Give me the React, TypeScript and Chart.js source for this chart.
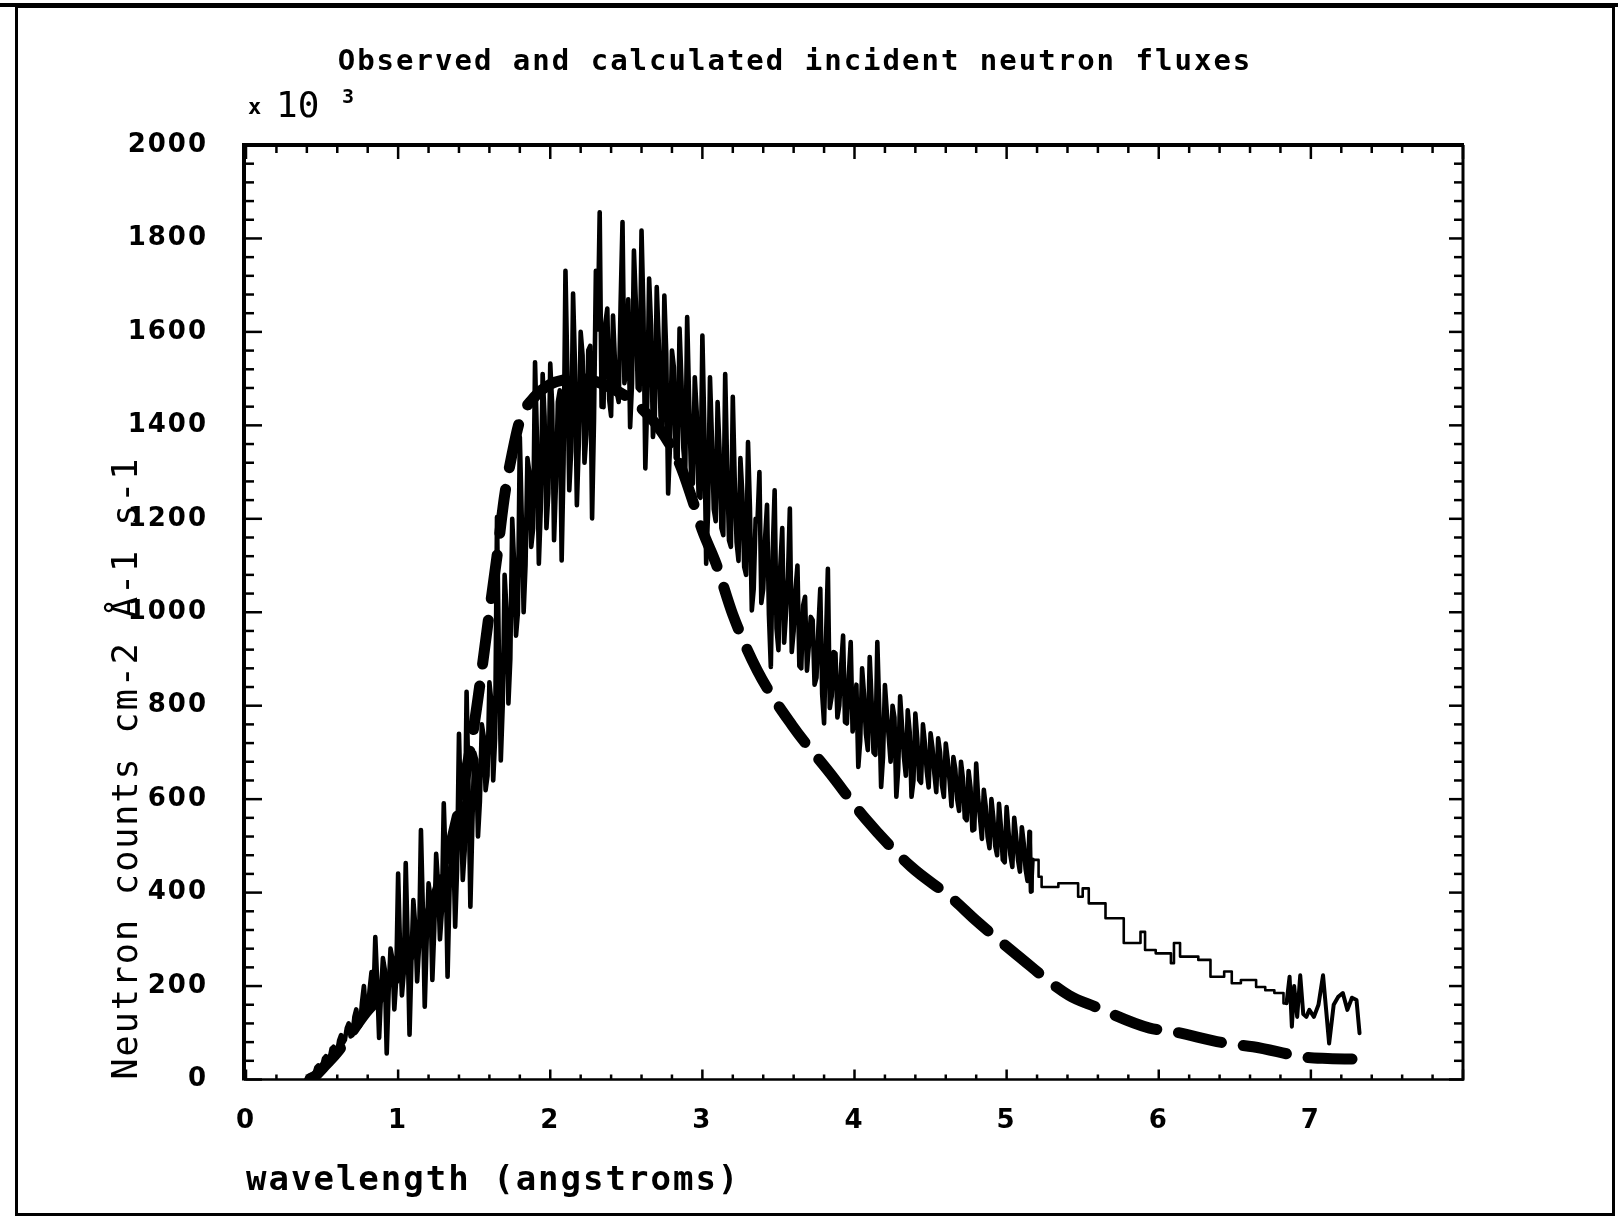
import React, { useEffect, useRef } from "react";
import { Chart, registerables } from "chart.js";

Chart.register(...registerables);

// ---- data ----
const TITLE = "Observed and calculated incident neutron fluxes";
const X_TITLE = "wavelength (angstroms)";
const Y_TITLE = "Neutron counts cm-2 Å-1 s-1";
const X_TICK_LABELS = ["0", "1", "2", "3", "4", "5", "6", "7"];

// observed flux (x10^3), noisy part.
// observedNoisyA: samples at 0.400, 0.425, 0.450 ... Å (the spikes)
// observedNoisyB: samples halfway between them, 0.4125, 0.4375 ... Å (the dense core)
const OBS_START = 0.4;
const OBS_STEP = 0.025;
const observedNoisyA = [
  2, 10, 12, 30, 28, 50, 45, 70, 60, 95,
  85, 120, 95, 150, 115, 200, 140, 230, 305, 89,
  260, 56, 280, 150, 441, 180, 463, 96, 384, 210,
  534, 156, 420, 213, 483, 300, 591, 220, 520, 327,
  740, 427, 830, 370, 700, 520, 760, 619, 850, 640,
  1204, 683, 1080, 805, 1200, 950, 1375, 1000, 1330, 1140,
  1535, 1104, 1510, 1180, 1532, 1154, 1450, 1111, 1731, 1261,
  1682, 1229, 1600, 1320, 1561, 1201, 1731, 1856, 1439, 1650,
  1420, 1539, 1450, 1835, 1520, 1396, 1774, 1480, 1817, 1308,
  1714, 1375, 1696, 1420, 1678, 1254, 1560, 1330, 1607, 1350,
  1632, 1297, 1503, 1250, 1592, 1104, 1503, 1220, 1450, 1180,
  1510, 1154, 1461, 1150, 1330, 1097, 1364, 1004, 1200, 1300,
  1050, 1230, 883, 1261, 919, 1180, 1000, 1222, 960, 1100,
  880, 1033, 930, 983, 860, 1050, 762, 1093, 820, 912,
  800, 950, 762, 936, 780, 669, 880, 740, 904, 700,
  936, 626, 844, 733, 800, 605, 820, 690, 790, 605,
  783, 641, 760, 660, 741, 655, 730, 630, 719, 640,
  690, 600, 680, 560, 660, 533, 676, 560, 620, 520,
  600, 500, 590, 470, 583, 480, 560, 470, 540, 450,
];
const observedNoisyB = [
  8, 6, 26, 22, 45, 40, 66, 58, 84, 78,
  110, 92, 134, 118, 165, 148, 192, 170, 208, 184,
  235, 188, 258, 215, 285, 230, 300, 255, 330, 285,
  365, 298, 390, 322, 420, 360, 462, 400, 505, 450,
  575, 490, 632, 540, 685, 595, 735, 650, 810, 730,
  905, 800, 1005, 900, 1105, 1000, 1205, 1100, 1300, 1180,
  1375, 1220, 1420, 1255, 1445, 1275, 1475, 1320, 1515, 1345,
  1530, 1360, 1550, 1380, 1570, 1410, 1605, 1440, 1620, 1455,
  1635, 1470, 1660, 1490, 1670, 1490, 1665, 1475, 1645, 1450,
  1615, 1420, 1585, 1390, 1555, 1360, 1525, 1330, 1495, 1300,
  1460, 1275, 1430, 1245, 1400, 1215, 1375, 1195, 1350, 1165,
  1315, 1140, 1285, 1110, 1255, 1080, 1225, 1050, 1195, 1020,
  1160, 995, 1130, 965, 1100, 935, 1075, 915, 1050, 885,
  1015, 875, 990, 845, 965, 825, 940, 795, 915, 775,
  885, 765, 865, 745, 845, 725, 825, 705, 810, 695,
  795, 690, 785, 680, 775, 665, 755, 650, 745, 640,
  730, 635, 720, 625, 710, 615, 700, 605, 685, 585,
  665, 575, 645, 555, 625, 535, 605, 515, 585, 495,
  560, 480, 540, 465, 530, 455, 520, 445, 505, 425,
];

// observed flux, stepped tail
const tailWavelengths = [
  5.15, 5.16, 5.17, 5.21, 5.23, 5.34, 5.47, 5.5, 5.54, 5.65,
  5.77, 5.88, 5.91, 5.98, 6.08, 6.1, 6.14, 6.26, 6.34, 6.43,
  6.48, 6.54, 6.64, 6.7, 6.76, 6.82,
];
const tailCounts = [
  530, 402, 470, 434, 412, 420, 391, 409, 377, 345,
  292, 316, 277, 270, 249, 292, 263, 256, 220, 231,
  206, 213, 198, 191, 185, 163,
];

// observed flux, noisy end
const endWavelengths = [
  6.84, 6.86, 6.875, 6.89, 6.91, 6.93, 6.95, 6.97, 6.99, 7.02,
  7.05, 7.08, 7.1, 7.12, 7.15, 7.18, 7.21, 7.24, 7.27, 7.3, 7.32,
];
const endCounts = [
  163, 220, 113, 200, 134, 223, 140, 134, 149, 134,
  160, 223, 150, 77, 160, 177, 185, 149, 175, 170, 99,
];

// calculated flux (dashed curve)
const calcWavelengths = [
  0.42, 0.46, 0.53, 0.6, 0.68, 0.79, 0.93, 1.0, 1.1, 1.2,
  1.3, 1.4, 1.5, 1.6, 1.65, 1.7, 1.75, 1.8, 1.9, 2.0,
  2.1, 2.2, 2.3, 2.4, 2.5, 2.6, 2.72, 2.85, 2.94, 3.0,
  3.09, 3.2, 3.36, 3.59, 3.84, 4.07, 4.37, 4.64, 4.8, 5.07,
  5.41, 5.58, 5.94, 6.07, 6.45, 6.62, 6.98, 7.11, 7.38,
];
const calcCounts = [
  0, 9, 33, 58, 94, 144, 193, 225, 280, 350,
  450, 580, 760, 1000, 1120, 1250, 1340, 1410, 1462, 1488,
  1498, 1500, 1494, 1480, 1462, 1436, 1392, 1318, 1235, 1175,
  1104, 995, 876, 758, 655, 559, 456, 388, 340, 266,
  180, 156, 110, 104, 77, 70, 47, 45, 43,
];

const MONO = "'DejaVu Sans Mono', monospace";
const BOLD = "'DejaVu Sans', sans-serif";

const framePlugin = {
  id: "plotFrame",
  beforeDraw(chart: any) {
    chart.ctx.letterSpacing = "2px";
  },
  afterDraw(chart: any) {
    const { ctx, chartArea: a } = chart;
    const xs = chart.scales.x;
    const ys = chart.scales.y;
    ctx.save();
    ctx.letterSpacing = "0px";
    ctx.strokeStyle = "#000";
    ctx.lineCap = "butt";
    const seg = (x1: number, y1: number, x2: number, y2: number, w: number) => {
      ctx.lineWidth = w;
      ctx.beginPath();
      ctx.moveTo(x1, y1);
      ctx.lineTo(x2, y2);
      ctx.stroke();
    };
    // plot frame
    seg(a.left - 2, a.top, a.right + 1, a.top, 4);
    seg(a.left - 2, a.top - 2, a.left - 2, a.bottom + 1, 4);
    seg(a.right, a.top, a.right, a.bottom + 1, 3);
    seg(a.left - 2, a.bottom, a.right + 1, a.bottom, 2.5);
    // x ticks (inward), minor every 0.2
    for (let i = 0; i <= 40; i++) {
      const px = xs.getPixelForValue(i * 0.2);
      const major = i % 5 === 0;
      seg(px, a.bottom, px, a.bottom - (major ? 10 : 5), 2.5);
      seg(px, a.top, px, a.top + (major ? 14 : 8), 2.5);
    }
    // y ticks (inward), minor every 40
    for (let i = 0; i <= 50; i++) {
      const py = ys.getPixelForValue(i * 40);
      const major = i % 5 === 0;
      seg(a.left, py, a.left + (major ? 16 : 8), py, 2.5);
      seg(a.right, py, a.right - (major ? 14 : 9), py, 2.5);
    }
    // axis multiplier
    ctx.fillStyle = "#000";
    ctx.textAlign = "left";
    ctx.textBaseline = "alphabetic";
    ctx.font = `bold 22px ${MONO}`;
    ctx.fillText("x", a.left + 2, a.top - 31);
    ctx.font = `36px ${MONO}`;
    ctx.fillText("10", a.left + 30, a.top - 28);
    ctx.font = `bold 20px ${MONO}`;
    ctx.fillText("3", a.left + 96, a.top - 42);
    // outer page border
    ctx.lineWidth = 3;
    ctx.strokeRect(16.5, 6.5, 1597, 1208);
    seg(0, 5, 1618, 5, 4);
    ctx.restore();
  },
};

export default function App() {
  const ref = useRef<HTMLCanvasElement | null>(null);

  useEffect(() => {
    if (!ref.current) return;
    const noisy: { x: number; y: number }[] = [];
    observedNoisyA.forEach((v, i) => {
      noisy.push({ x: OBS_START + i * OBS_STEP, y: v });
      noisy.push({ x: OBS_START + (i + 0.5) * OBS_STEP, y: observedNoisyB[i] });
    });
    noisy.push({ x: tailWavelengths[0], y: tailCounts[0] });
    noisy.push({ x: tailWavelengths[1], y: tailCounts[1] });
    noisy.push({ x: tailWavelengths[2], y: tailCounts[2] });
    const tail = [
      ...tailWavelengths.map((w, i) => ({ x: w, y: tailCounts[i] })),
      { x: endWavelengths[0], y: endCounts[0] },
    ];
    const end = endWavelengths.map((w, i) => ({ x: w, y: endCounts[i] }));
    const calculated = calcWavelengths.map((w, i) => ({ x: w, y: calcCounts[i] }));

    const lineBase = {
      borderColor: "#000",
      pointRadius: 0,
      fill: false,
      borderJoinStyle: "round",
      borderCapStyle: "round",
    };

    const chart = new Chart(ref.current, {
      type: "line",
      data: {
        datasets: [
          { ...lineBase, label: "Observed", data: noisy, borderWidth: 4.6 } as any,
          { ...lineBase, label: "Observed tail", data: tail, borderWidth: 2.6, stepped: true } as any,
          { ...lineBase, label: "Observed end", data: end, borderWidth: 4 } as any,
          {
            ...lineBase,
            label: "Calculated",
            data: calculated,
            borderWidth: 11,
            borderDash: [44, 22],
            cubicInterpolationMode: "monotone",
          } as any,
        ],
      },
      options: {
        animation: false,
        responsive: false,
        devicePixelRatio: 1,
        color: "#000",
        layout: { padding: { left: 90, right: 118, top: 40, bottom: 5 } },
        plugins: {
          legend: { display: false },
          tooltip: { enabled: false },
          title: {
            display: true,
            text: TITLE,
            color: "#000",
            font: { family: MONO, size: 29, weight: "bold" },
            padding: { top: 5, bottom: 65.2 },
          },
        },
        scales: {
          x: {
            type: "linear",
            min: 0,
            max: 8,
            grid: { display: false },
            border: { display: false },
            ticks: {
              stepSize: 1,
              autoSkip: false,
              maxRotation: 0,
              padding: 18,
              color: "#000",
              font: { family: BOLD, size: 26, weight: "bold" },
              callback: (v: any) => X_TICK_LABELS[Math.round(Number(v))] ?? "",
            },
            title: {
              display: true,
              text: X_TITLE,
              align: "start",
              color: "#000",
              font: { family: MONO, size: 34, weight: "bold" },
              padding: { top: 0, bottom: 12.6 },
            },
            afterFit: (s: any) => {
              s.height = 134.5;
            },
          },
          y: {
            type: "linear",
            min: 0,
            max: 2000,
            grid: { display: false },
            border: { display: false },
            ticks: {
              stepSize: 200,
              padding: 30,
              color: "#000",
              font: { family: BOLD, size: 26, weight: "bold" },
              callback: (v: any) => String(v),
            },
            title: {
              display: true,
              text: Y_TITLE,
              align: "start",
              color: "#000",
              font: { family: MONO, size: 35, weight: "normal" },
              padding: { top: 17, bottom: 0 },
            },
            afterFit: (s: any) => {
              s.width = 156;
            },
          },
          yRight: {
            type: "linear",
            position: "right",
            display: true,
            grid: { display: false },
            border: { display: false },
            ticks: { display: false },
            afterFit: (s: any) => {
              s.width = 37;
            },
          },
        },
      } as any,
      plugins: [framePlugin],
    });
    return () => chart.destroy();
  }, []);

  return (
    <div style={{ position: "absolute", left: 0, top: 0, width: 1618, height: 1219, background: "#fff" }}>
      <canvas ref={ref} width={1618} height={1219} style={{ display: "block" }} />
    </div>
  );
}
